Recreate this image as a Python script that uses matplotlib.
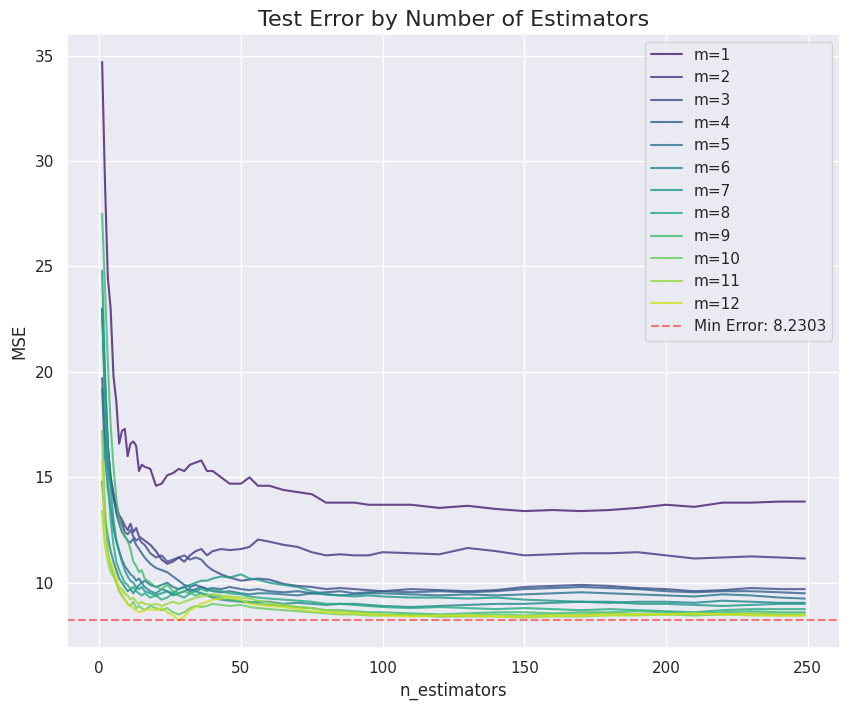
import matplotlib
matplotlib.use("Agg")
import matplotlib.pyplot as plt
import seaborn as sns

n_est = [1, 2, 3, 4, 5, 6, 7, 8, 9, 10, 11, 12, 13, 14, 15, 16, 18, 20, 22, 24,
         26, 28, 30, 32, 34, 36, 38, 40, 43, 46, 50, 53, 56, 60, 65, 70, 75, 80,
         85, 90, 95, 100, 110, 120, 130, 140, 150, 160, 170, 180, 190, 200, 210,
         220, 230, 240, 249]

mse_m1 = [34.7, 29.0, 24.5, 23.0, 19.8, 18.6, 16.6, 17.2, 17.3, 16.0, 16.6, 16.7, 16.5, 15.3, 15.6, 15.5, 15.4, 14.6, 14.7, 15.1,
          15.2, 15.4, 15.3, 15.6, 15.7, 15.8, 15.3, 15.3, 15.0, 14.7, 14.7, 15.0, 14.6, 14.6, 14.4, 14.3, 14.2, 13.8,
          13.8, 13.8, 13.7, 13.7, 13.7, 13.55, 13.65, 13.5, 13.4, 13.45, 13.4, 13.45, 13.55, 13.7, 13.6,
          13.8, 13.8, 13.85, 13.85]
mse_m2 = [23.0, 19.0, 16.5, 15.0, 14.2, 13.6, 13.2, 13.0, 12.7, 12.5, 12.8, 12.4, 12.6, 12.2, 12.1, 12.0, 11.8, 11.5, 11.1, 10.9,
          11.0, 11.2, 11.0, 11.3, 11.5, 11.6, 11.3, 11.5, 11.6, 11.55, 11.6, 11.7, 12.05, 11.95, 11.8, 11.7, 11.45, 11.3,
          11.35, 11.3, 11.3, 11.45, 11.4, 11.35, 11.65, 11.5, 11.3, 11.35, 11.4, 11.4, 11.45, 11.3, 11.15,
          11.2, 11.25, 11.2, 11.15]
mse_m3 = [19.7, 17.0, 15.5, 14.8, 14.0, 13.5, 13.0, 12.8, 12.4, 12.3, 12.5, 12.2, 12.0, 12.1, 11.9, 11.8, 11.4, 11.2, 11.3, 11.0,
          11.1, 11.2, 11.3, 11.1, 11.2, 11.1, 10.8, 10.6, 10.4, 10.25, 10.1, 10.15, 10.2, 10.15, 9.95, 9.85, 9.8, 9.7,
          9.75, 9.7, 9.65, 9.6, 9.7, 9.65, 9.6, 9.65, 9.8, 9.85, 9.9, 9.85, 9.75, 9.7, 9.6,
          9.65, 9.75, 9.7, 9.7]
mse_m4 = [23.0, 19.5, 16.5, 15.0, 14.2, 13.3, 12.8, 12.4, 12.2, 12.0, 11.9, 12.1, 11.8, 11.6, 11.4, 11.2, 10.9, 10.7, 10.6, 10.5,
          10.3, 10.1, 9.9, 9.8, 9.9, 9.8, 9.7, 9.75, 9.7, 9.8, 9.7, 9.65, 9.7, 9.6, 9.55, 9.6, 9.5, 9.55,
          9.6, 9.5, 9.55, 9.6, 9.55, 9.6, 9.55, 9.6, 9.7, 9.75, 9.8, 9.75, 9.7, 9.6, 9.55,
          9.6, 9.6, 9.55, 9.5]
mse_m5 = [19.2, 16.0, 14.5, 13.5, 12.6, 12.0, 11.5, 11.1, 10.8, 10.6, 10.4, 10.3, 10.1, 10.2, 10.0, 10.1, 9.9, 9.8, 9.9, 10.0,
          9.8, 9.7, 9.8, 9.6, 9.7, 9.8, 9.7, 9.6, 9.55, 9.6, 9.5, 9.45, 9.5, 9.5, 9.45, 9.4, 9.5, 9.45,
          9.4, 9.45, 9.5, 9.5, 9.45, 9.4, 9.45, 9.4, 9.45, 9.5, 9.55, 9.5, 9.45, 9.4, 9.35,
          9.45, 9.4, 9.3, 9.25]
mse_m6 = [14.8, 13.0, 12.2, 11.5, 11.0, 10.6, 10.2, 10.0, 9.8, 9.6, 9.7, 9.5, 9.7, 9.9, 10.0, 9.8, 9.6, 9.5, 9.7, 9.6,
          9.4, 9.5, 9.6, 9.7, 9.6, 9.5, 9.4, 9.3, 9.2, 9.15, 9.1, 9.05, 9.1, 9.1, 9.0, 9.05, 9.0, 8.95,
          9.0, 9.0, 8.95, 8.9, 8.85, 8.9, 8.95, 9.0, 9.0, 9.05, 9.1, 9.05, 9.1, 9.1, 9.05,
          9.15, 9.1, 9.05, 9.05]
mse_m7 = [24.8, 20.0, 16.5, 14.5, 13.0, 12.0, 11.5, 11.0, 10.6, 10.3, 10.1, 10.0, 9.8, 9.7, 9.8, 9.6, 9.5, 9.4, 9.5, 9.6,
          9.5, 9.7, 9.8, 9.9, 10.0, 10.1, 10.1, 10.2, 10.3, 10.25, 10.4, 10.2, 10.15, 10.0, 9.9, 9.8, 9.6, 9.45,
          9.4, 9.35, 9.4, 9.35, 9.3, 9.3, 9.25, 9.3, 9.2, 9.15, 9.1, 9.1, 9.0, 9.0, 8.95,
          8.9, 8.95, 9.0, 9.0]
mse_m8 = [23.0, 18.5, 15.0, 13.0, 11.8, 11.0, 10.6, 10.3, 10.0, 9.9, 9.7, 9.8, 9.6, 9.5, 9.4, 9.5, 9.3, 9.4, 9.2, 9.3,
          9.5, 9.4, 9.3, 9.5, 9.6, 9.7, 9.6, 9.7, 9.6, 9.5, 9.45, 9.35, 9.3, 9.25, 9.2, 9.15, 9.1, 9.0,
          9.0, 8.95, 8.9, 8.85, 8.8, 8.85, 8.8, 8.75, 8.8, 8.75, 8.7, 8.75, 8.7, 8.65, 8.6,
          8.7, 8.75, 8.75, 8.75]
mse_m9 = [27.5, 24.0, 20.5, 17.5, 15.5, 14.0, 13.0, 12.5, 12.2, 12.0, 11.6, 11.0, 10.8, 10.5, 10.6, 10.2, 10.0, 9.8, 9.7, 9.9,
          9.6, 9.5, 9.6, 9.5, 9.4, 9.5, 9.45, 9.4, 9.3, 9.2, 9.15, 9.1, 9.0, 8.95, 8.9, 8.85, 8.8, 8.7,
          8.7, 8.65, 8.6, 8.6, 8.55, 8.5, 8.55, 8.6, 8.6, 8.55, 8.6, 8.6, 8.65, 8.6, 8.55,
          8.6, 8.65, 8.6, 8.6]
mse_m10 = [17.2, 13.5, 11.5, 10.8, 10.4, 10.0, 9.6, 9.4, 9.2, 9.0, 8.9, 9.1, 8.8, 8.9, 8.8, 8.7, 8.9, 8.8, 8.7, 8.8,
           8.6, 8.5, 8.6, 8.8, 8.9, 8.85, 8.9, 9.0, 8.95, 8.9, 8.95, 8.85, 8.8, 8.75, 8.7, 8.65, 8.6, 8.55,
           8.5, 8.5, 8.45, 8.45, 8.5, 8.4, 8.45, 8.5, 8.45, 8.5, 8.5, 8.55, 8.5, 8.5, 8.45,
           8.5, 8.55, 8.5, 8.5]
mse_m11 = [13.4, 11.8, 11.0, 10.5, 10.3, 10.0, 9.8, 9.7, 9.5, 9.4, 9.2, 9.3, 9.1, 9.0, 9.1, 9.0, 8.95, 9.0, 8.9, 9.0,
           9.1, 9.0, 9.1, 9.2, 9.3, 9.35, 9.4, 9.45, 9.4, 9.35, 9.3, 9.25, 9.15, 9.05, 8.95, 8.85, 8.8, 8.7,
           8.65, 8.6, 8.55, 8.5, 8.45, 8.4, 8.4, 8.4, 8.35, 8.4, 8.4, 8.45, 8.45, 8.5, 8.5,
           8.5, 8.45, 8.45, 8.45]
mse_m12 = [15.8, 12.0, 11.2, 11.0, 10.7, 10.2, 9.8, 9.5, 9.2, 9.0, 8.9, 8.8, 8.7, 8.6, 8.65, 8.7, 8.75, 8.7, 8.8, 8.6,
           8.45, 8.2303, 8.4, 8.7, 8.85, 9.0, 9.1, 9.2, 9.25, 9.3, 9.2, 9.0, 8.95, 8.9, 8.85, 8.75, 8.65, 8.6,
           8.55, 8.55, 8.5, 8.45, 8.4, 8.45, 8.45, 8.4, 8.4, 8.45, 8.45, 8.5, 8.5, 8.5, 8.55,
           8.5, 8.5, 8.45, 8.45]

all_mse = [mse_m1, mse_m2, mse_m3, mse_m4, mse_m5, mse_m6,
           mse_m7, mse_m8, mse_m9, mse_m10, mse_m11, mse_m12]
min_error = 8.2303

sns.set_theme(style="darkgrid")
colors = sns.color_palette("viridis", n_colors=len(all_mse))

fig = plt.figure(figsize=(8.51, 7.12), dpi=100)
ax = fig.add_subplot(111)
fig.subplots_adjust(left=67/851, right=840/851, bottom=1-648/712, top=1-34/712)

for i, mse in enumerate(all_mse):
    ax.plot(n_est, mse, color=colors[i], alpha=0.8, label=f"m={i+1}")

ax.axhline(min_error, color='red', linestyle='--', alpha=0.5, label=f"Min Error: {min_error:.4f}")

ax.set_title("Test Error by Number of Estimators", fontsize=16)
ax.set_xlabel("n_estimators")
ax.set_ylabel("MSE")
ax.legend(loc="upper right")

fig.savefig("out.png", dpi=100)
